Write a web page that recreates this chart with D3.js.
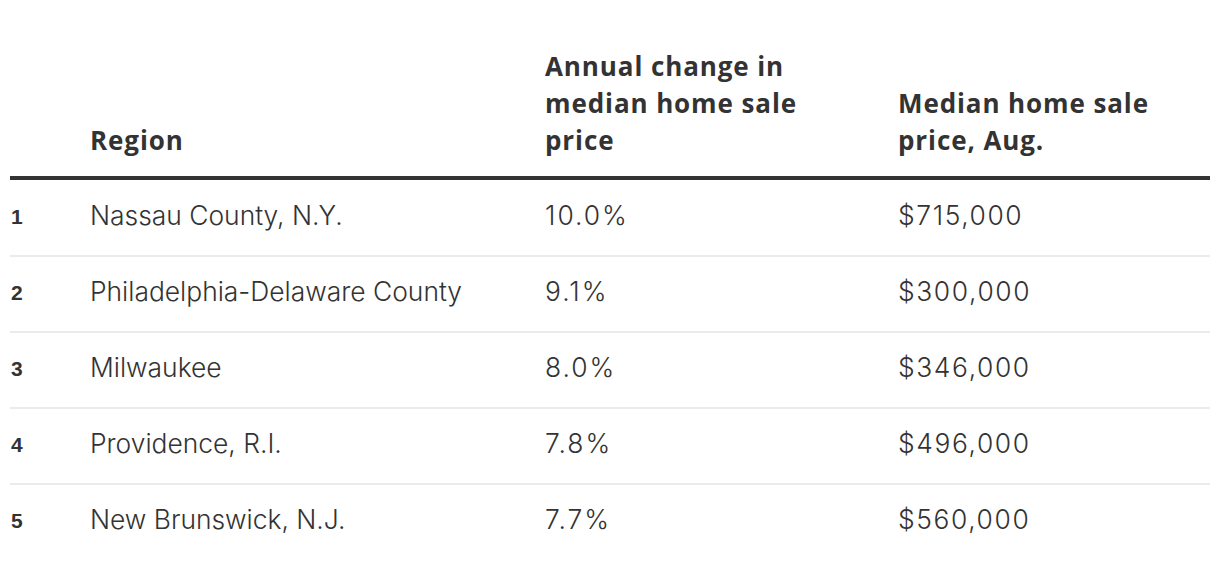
<!DOCTYPE html>
<html><head><meta charset="utf-8">
<script src="https://cdn.jsdelivr.net/npm/d3@7"></script>
<style>body{margin:0;background:#fff}</style>
</head><body>
<svg id="c" width="1220" height="568"></svg>
<script>
const ranks = ["1","2","3","4","5"];
const regions = ["Nassau County, N.Y.","Philadelphia-Delaware County","Milwaukee","Providence, R.I.","New Brunswick, N.J."];
const changes = [10.0, 9.1, 8.0, 7.8, 7.7];
const prices = [715000, 300000, 346000, 496000, 560000];
const columns = ["rank","region","change","price"];
const headers = [[], ["Region"], ["Annual change in","median home sale","price"], ["Median home sale","price, Aug."]];

const W = 1220, left = 10, right = 1210;
const headBottom = 180, rowH = 76;
const colX = d3.scaleOrdinal().domain(columns).range([10, 90, 545, 898]);
const y = d3.scaleBand().domain(ranks).range([headBottom, headBottom + rowH*ranks.length]).padding(0);

const svg = d3.select("#c");
const ink = "#333";

// headers (bottom-aligned)
const lineH = 37, lastBase = 150;
columns.forEach((c, i) => {
  const lines = headers[i];
  svg.append("g").selectAll("text").data(lines).join("text")
    .attr("x", colX(c))
    .attr("y", (d, k) => lastBase - (lines.length - 1 - k) * lineH)
    .attr("font-family", "'Open Sans', sans-serif")
    .attr("font-weight", 700)
    .attr("font-size", 26)
    .attr("letter-spacing", 0.9)
    .attr("fill", ink)
    .text(d => d);
});

// header rule
svg.append("line").attr("x1", left).attr("x2", right)
  .attr("y1", 178).attr("y2", 178)
  .attr("stroke", ink).attr("stroke-width", 4);

// row separators
svg.append("g").selectAll("line").data(ranks.slice(0, -1)).join("line")
  .attr("x1", left).attr("x2", right)
  .attr("y1", d => y(d) + y.bandwidth()).attr("y2", d => y(d) + y.bandwidth())
  .attr("stroke", "#ebebeb").attr("stroke-width", 2);

const rows = ranks.map((r, i) => ({rank: r, region: regions[i], change: changes[i], price: prices[i]}));
const fmtPct = d3.format(".1f");
const fmtPrice = d3.format("$,");
const baseOff = 45;

const g = svg.append("g").selectAll("g").data(rows).join("g")
  .attr("transform", d => `translate(0,${y(d.rank) + baseOff})`);

g.append("text").attr("x", colX("rank") + 1).attr("y", -1)
  .attr("font-family", "'Liberation Sans', Arial, sans-serif").attr("font-weight", 700)
  .attr("font-size", 21).attr("fill", ink).text(d => d.rank);

const body = [["region", d => d.region, 0], ["change", d => fmtPct(d.change) + "%", 2], ["price", d => fmtPrice(d.price), 1.6]];
body.forEach(([c, f, ls]) => {
  g.append("text").attr("x", colX(c))
    .attr("font-family", "Inter, sans-serif").attr("font-weight", 300)
    .attr("font-size", 26.4).attr("letter-spacing", ls).attr("fill", ink).text(f);
});
</script></body></html>
